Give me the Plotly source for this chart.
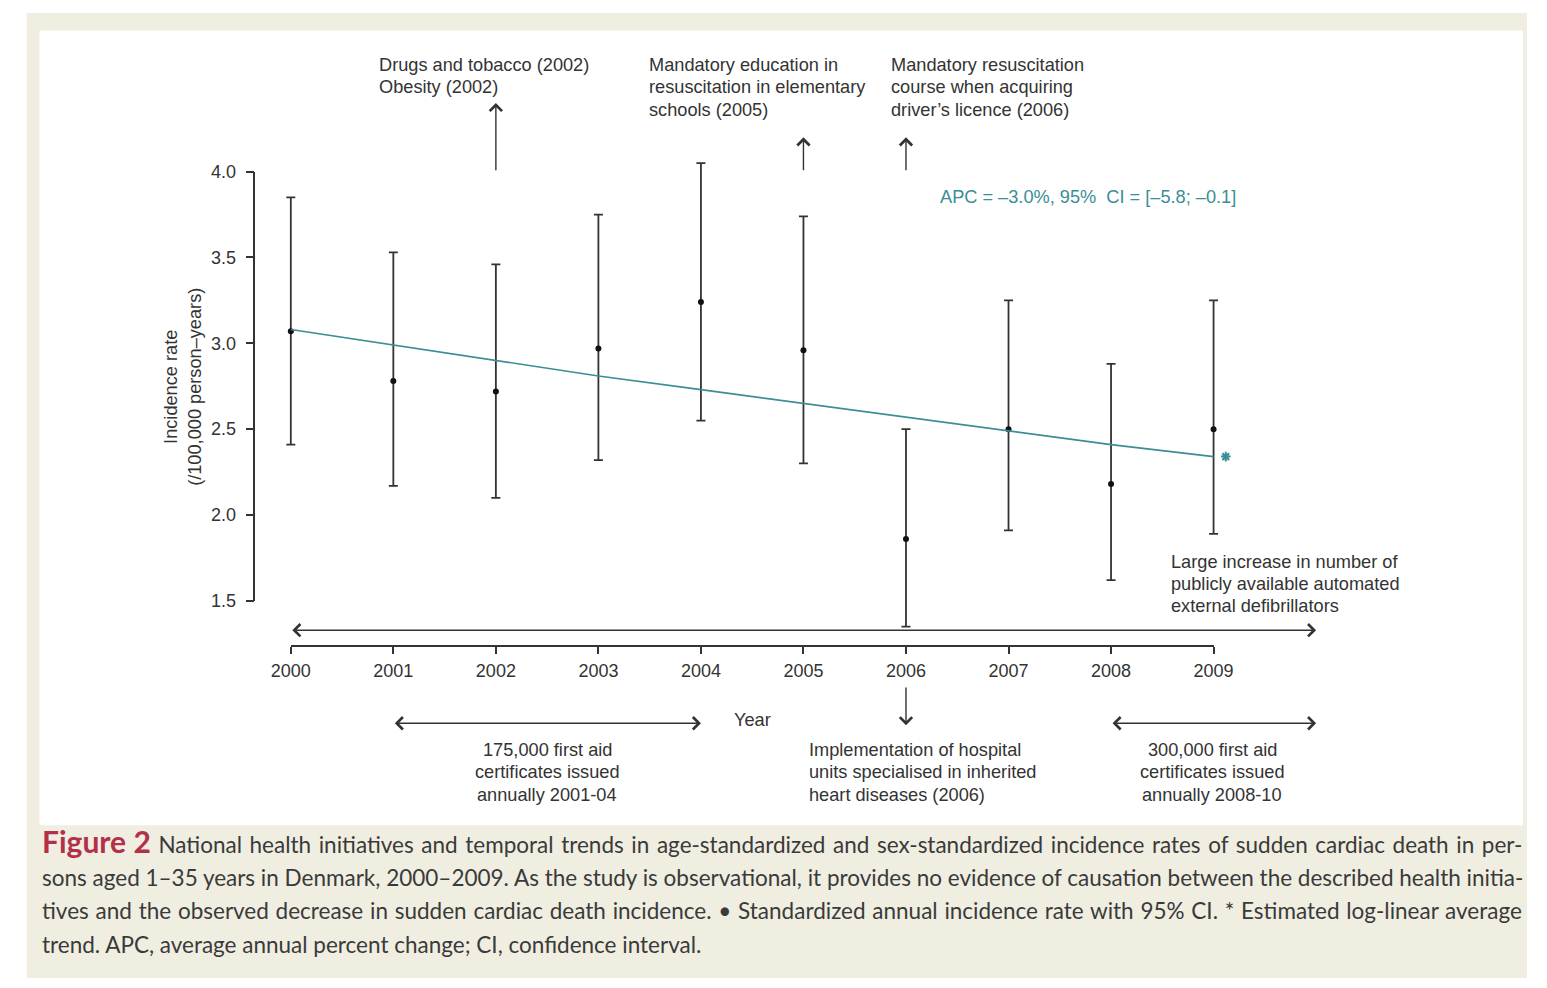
import plotly.graph_objects as go

# ---------------- data ----------------
years = [2000, 2001, 2002, 2003, 2004, 2005, 2006, 2007, 2008, 2009]
rate = [3.07, 2.78, 2.72, 2.97, 3.24, 2.96, 1.86, 2.50, 2.18, 2.50]
ci_upper = [3.85, 3.53, 3.46, 3.75, 4.05, 3.74, 2.50, 3.25, 2.88, 3.25]
ci_lower = [2.41, 2.17, 2.10, 2.32, 2.55, 2.30, 1.35, 1.91, 1.62, 1.89]
trend = [3.08, 2.99, 2.90, 2.81, 2.73, 2.65, 2.57, 2.49, 2.41, 2.34]
y_ticks = [1.5, 2.0, 2.5, 3.0, 3.5, 4.0]
y_ticklabels = ["1.5", "2.0", "2.5", "3.0", "3.5", "4.0"]

# ---------------- geometry helpers ----------------
W, H = 1547, 988
X0, XS = 278.0, 105.25      # pixel of year 2000, pixels per year
Y0, YS = 165.0, 175.2       # pixel of rate 4.0, pixels per unit


def px(x):
    return x / W


def py(y):
    return 1 - y / H


def vy(ypix):
    return 4.0 - (ypix - Y0) / YS


xr = [2000 - X0 / XS, 2000 + (W - X0) / XS]
yr = [4.0 - (H - Y0) / YS, 4.0 + Y0 / YS]

TXT = "#333333"
TEAL = "#3a8e95"
FONT = "Liberation Sans, Arial, sans-serif"
FS = 18.2

fig = go.Figure()

# error bars + points
fig.add_trace(go.Scatter(
    x=years, y=rate, mode="markers",
    marker=dict(color="#111111", size=6),
    error_y=dict(type="data", symmetric=False,
                 array=[u - r for u, r in zip(ci_upper, rate)],
                 arrayminus=[r - l for r, l in zip(rate, ci_lower)],
                 color="#333333", thickness=1.8, width=4.5),
    showlegend=False, hoverinfo="skip"))

# trend line
fig.add_trace(go.Scatter(
    x=years, y=trend, mode="lines",
    line=dict(color=TEAL, width=1.6),
    showlegend=False, hoverinfo="skip"))

# asterisk marker at end of trend
fig.add_trace(go.Scatter(
    x=[years[-1] + 12.5 / XS], y=[trend[-1]], mode="markers",
    marker=dict(symbol="asterisk-open", size=8, color=TEAL,
                line=dict(color=TEAL, width=2)),
    showlegend=False, hoverinfo="skip"))

# dummy traces so the visible free axes get drawn
fig.add_trace(go.Scatter(x=[years[0]], y=[-100], xaxis="x", yaxis="y2",
                         mode="markers", marker=dict(opacity=0),
                         showlegend=False, hoverinfo="skip"))
fig.add_trace(go.Scatter(x=[years[0]], y=[-100], xaxis="x2", yaxis="y",
                         mode="markers", marker=dict(opacity=0),
                         showlegend=False, hoverinfo="skip"))

annotations = []

# arrows (data coords)
arrow_specs = [
    # x_head, y_head_px, x_tail, y_tail_px, double
    (2002, 95, 2002, 165, False),
    (2005, 130, 2005, 165, False),
    (2006, 130, 2006, 165, False),
    (2010, 633, 2000, 633, True),
    (2004, 728, 2001, 728, True),
    (2010, 728, 2008, 728, True),
    (2006, 730, 2006, 690, False),
]
for xh, yh, xt, yt, dbl in arrow_specs:
    annotations.append(dict(
        x=xh, y=vy(yh), ax=xt, ay=vy(yt), xref="x", yref="y",
        axref="x", ayref="y", text="", showarrow=True,
        arrowhead=4, startarrowhead=4, arrowsize=1.7, startarrowsize=1.7,
        arrowwidth=1.4, arrowcolor="#333333",
        arrowside="end+start" if dbl else "end",
        standoff=0, startstandoff=0))


def txt(x, y, text, xanchor="left", align="left", color=TXT, size=FS,
        yanchor="middle", font=FONT, **kw):
    d = dict(x=px(x), y=py(y), xref="paper", yref="paper", text=text,
             showarrow=False, xanchor=xanchor, yanchor=yanchor, align=align,
             font=dict(family=font, size=size, color=color))
    d.update(kw)
    annotations.append(d)


def block(x, y_first, lines, step=23, xanchor="left"):
    for i, line in enumerate(lines):
        txt(x, y_first + i * step, line, xanchor=xanchor,
            align="center" if xanchor == "center" else "left")


block(366, 56, ["Drugs and tobacco (2002)", "Obesity (2002)"])
block(644, 56, ["Mandatory education in", "resuscitation in elementary", "schools (2005)"])
block(892, 56, ["Mandatory resuscitation", "course when acquiring", "driver’s licence (2006)"])
txt(942, 191, "APC = –3.0%, 95%  CI = [–5.8; –0.1]", color=TEAL)
block(1180, 563, ["Large increase in number of", "publicly available automated",
                  "external defibrillators"], step=22.5)
txt(752, 725, "Year", xanchor="center", align="center")
block(541, 755, ["175,000 first aid", "certificates issued", "annually 2001-04"], xanchor="center")
block(808, 755, ["Implementation of hospital", "units specialised in inherited",
                 "heart diseases (2006)"])
block(1224, 755, ["300,000 first aid", "certificates issued", "annually 2008-10"], xanchor="center")
txt(168, 385, "Incidence rate<br>(/100,000 person–years)", xanchor="center", align="center",
    textangle=-90)

# caption
CAP_FONT = "Lato, Open Sans, sans-serif"
CAP_FS = 22.5
cap_lines = [
    "<span style='color:#b2304a;font-size:30px'><b>Figure 2</b></span>"
    "<span style='word-spacing:1.85px'> National health initiatives and temporal trends in age-standardized and sex-standardized incidence rates of sudden cardiac death in per-</span>",
    "sons aged 1–35 years in Denmark, 2000–2009. As the study is observational, it provides no evidence of causation between the described health initia-",
    "<span style='word-spacing:1px'>tives and the observed decrease in sudden cardiac death incidence. • Standardized annual incidence rate with 95% CI. * Estimated log-linear average</span>",
    "trend. APC, average annual percent change; CI, confidence interval.",
]
cap_y = [848, 885, 919, 954]
for line, yy in zip(cap_lines, cap_y):
    txt(21, yy, line, font=CAP_FONT, size=CAP_FS, color="#3a3a3a")

shapes = [
    dict(type="rect", xref="paper", yref="paper", x0=px(7), x1=1.0, y0=0, y1=py(3),
         fillcolor="#f0ede1", line=dict(width=0), layer="below"),
    dict(type="rect", xref="paper", yref="paper", x0=px(20), x1=px(1543), y0=py(832), y1=py(21),
         fillcolor="#ffffff", line=dict(width=0), layer="below"),
]

fig.update_layout(
    width=W, height=H,
    margin=dict(l=0, r=0, t=0, b=0),
    paper_bgcolor="#ffffff", plot_bgcolor="rgba(0,0,0,0)",
    xaxis=dict(range=xr, domain=[0, 1], visible=False, fixedrange=True),
    yaxis=dict(range=yr, domain=[0, 1], visible=False, fixedrange=True),
    yaxis2=dict(range=[1.5, 4.0], domain=[py(603), py(165)], anchor="free",
                position=px(240.5), side="left", showline=True, linecolor="#333333",
                linewidth=1.5, ticks="outside", ticklen=8, tickwidth=1.5,
                tickcolor="#333333", tickvals=y_ticks, ticktext=y_ticklabels,
                showgrid=False, zeroline=False, fixedrange=True, ticklabelstandoff=6,
                tickfont=dict(family=FONT, size=18, color=TXT)),
    xaxis2=dict(range=[years[0], years[-1]], domain=[px(X0), px(X0 + 9 * XS)],
                anchor="free", position=py(649), side="bottom", showline=True,
                linecolor="#333333", linewidth=1.5, ticks="outside", ticklen=7,
                tickwidth=1.5, tickcolor="#333333", tickvals=years,
                ticktext=[str(y) for y in years], showgrid=False, zeroline=False,
                fixedrange=True, ticklabelstandoff=2,
                tickfont=dict(family=FONT, size=18, color=TXT)),
    annotations=annotations,
    shapes=shapes,
    showlegend=False,
)

fig.write_html(
    "out.html",
    include_plotlyjs=True,
    full_html=True,
    config={"displayModeBar": False},
    post_script="document.body.style.margin='0';document.body.style.padding='0';"
                "document.body.style.overflow='hidden';",
)
